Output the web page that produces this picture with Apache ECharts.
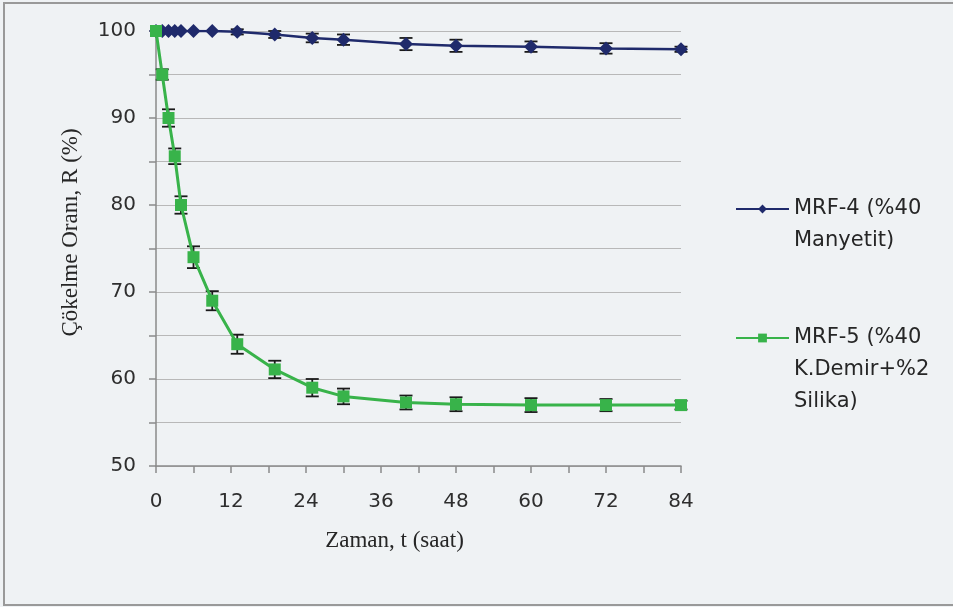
<!DOCTYPE html>
<html>
<head>
<meta charset="utf-8">
<script src="https://cdn.jsdelivr.net/npm/echarts@6/dist/echarts.min.js"></script>
<style>
html,body{margin:0;padding:0;background:#eff2f4;}
#chart{width:953px;height:607px;}
</style>
</head>
<body>
<div id="chart"></div>
<script>
// Data
const times = [0, 1, 2, 3, 4, 6, 9, 13, 19, 25, 30, 40, 48, 60, 72, 84];
const mrf4 = [100, 100, 100, 100, 100, 100, 100, 99.9, 99.6, 99.2, 99.0, 98.5, 98.3, 98.2, 98.0, 97.9];
const mrf4Err = [0, 0, 0, 0, 0, 0, 0, 0.3, 0.4, 0.5, 0.6, 0.7, 0.7, 0.6, 0.6, 0.3];
const mrf5 = [100, 95, 90, 85.6, 80, 74, 69, 64, 61.1, 59, 58, 57.3, 57.1, 57, 57, 57];
const mrf5Err = [0, 0.6, 1.0, 0.9, 1.0, 1.25, 1.1, 1.1, 1.0, 1.0, 0.9, 0.8, 0.8, 0.8, 0.7, 0.5];
const seriesNames = ['MRF-4 (%40 Manyetit)', 'MRF-5 (%40 K.Demir+%2 Silika)'];
const legendLabels = ['MRF-4 (%40\nManyetit)', 'MRF-5 (%40\nK.Demir+%2\nSilika)'];
const xTitle = 'Zaman, t (saat)';
const yTitle = 'Çökelme Oranı, R (%)';

const pts = (vals) => times.map((t, i) => [t, vals[i]]);
const errPts = (vals, errs) => times.map((t, i) => [t, vals[i] - errs[i], vals[i] + errs[i]]).filter((d, i) => errs[i] > 0);

function errRender(params, api) {
  const x = api.value(0);
  const lo = api.coord([x, api.value(1)]);
  const hi = api.coord([x, api.value(2)]);
  const hw = 6.5;
  const st = { stroke: '#1a1a1a', lineWidth: 1.8 };
  return {
    type: 'group',
    children: [
      { type: 'line', shape: { x1: lo[0], y1: lo[1], x2: hi[0], y2: hi[1] }, style: st },
      { type: 'line', shape: { x1: lo[0] - hw, y1: lo[1], x2: lo[0] + hw, y2: lo[1] }, style: st },
      { type: 'line', shape: { x1: hi[0] - hw, y1: hi[1], x2: hi[0] + hw, y2: hi[1] }, style: st }
    ]
  };
}

const blue = '#1f2a6b';
const green = '#38b34a';
const sansFont = 'DejaVu Sans';
const serifFont = 'Liberation Serif';

const chart = echarts.init(document.getElementById('chart'), null, { renderer: 'canvas' });
chart.setOption({
  backgroundColor: '#eff2f4',
  animation: false,
  graphic: [
    { type: 'rect', shape: { x: 4, y: 3, width: 1000, height: 602 }, style: { fill: 'none', stroke: '#999', lineWidth: 2 }, z: -1 }
  ],
  grid: { left: 156, right: 272, top: 31, bottom: 141 },
  legend: {
    orient: 'vertical',
    left: 735,
    top: 161,
    padding: 0,
    itemGap: 1,
    itemWidth: 53,
    itemHeight: 11,
    itemStyle: { borderWidth: 0 },
    data: seriesNames,
    formatter: function (name) {
      const i = seriesNames.indexOf(name);
      const lines = legendLabels[i].split('\n').length;
      return '\n'.repeat(lines - 1) + legendLabels[i];
    },
    textStyle: { fontFamily: sansFont, fontSize: 21, color: '#262626', lineHeight: 32 }
  },
  xAxis: {
    type: 'value',
    min: 0, max: 84, interval: 6,
    name: xTitle,
    nameLocation: 'middle',
    nameGap: 63,
    nameTextStyle: { fontFamily: serifFont, fontSize: 23, color: '#262626', padding: [0, 48, 0, 0] },
    axisLine: { show: true, lineStyle: { color: '#8a8a8a', width: 1.5 } },
    axisTick: { show: true, length: 7, inside: false, lineStyle: { color: '#8a8a8a', width: 1.5 } },
    axisLabel: {
      margin: 26,
      fontFamily: sansFont, fontSize: 20, color: '#2e2e2e',
      formatter: (v) => (v % 12 === 0 ? String(v) : '')
    },
    splitLine: { show: false }
  },
  yAxis: {
    type: 'value',
    min: 50, max: 100, interval: 5,
    name: yTitle,
    nameLocation: 'middle',
    nameRotate: 90,
    nameGap: 74,
    nameTextStyle: { fontFamily: serifFont, fontSize: 23, color: '#262626', padding: [0, 0, 0, 32] },
    axisLine: { show: true, lineStyle: { color: '#8a8a8a', width: 1.5 } },
    axisTick: { show: true, length: 7, inside: false, lineStyle: { color: '#8a8a8a', width: 1.5 } },
    axisLabel: {
      margin: 20,
      fontFamily: sansFont, fontSize: 20, color: '#2e2e2e',
      formatter: (v) => (v % 10 === 0 ? String(v) : '')
    },
    splitLine: { show: true, lineStyle: { color: '#b8b8b8', width: 1.2 } }
  },
  series: [
    {
      name: 'err4', type: 'custom', renderItem: errRender, data: errPts(mrf4, mrf4Err), z: 1, silent: true
    },
    {
      name: 'err5', type: 'custom', renderItem: errRender, data: errPts(mrf5, mrf5Err), z: 1, silent: true
    },
    {
      name: seriesNames[0], type: 'line', data: pts(mrf4), z: 2,
      symbol: 'diamond', symbolSize: 14,
      lineStyle: { color: blue, width: 2.5 },
      itemStyle: { color: blue, borderWidth: 0 }
    },
    {
      name: seriesNames[1], type: 'line', data: pts(mrf5), z: 3,
      symbol: 'rect', symbolSize: 12,
      lineStyle: { color: green, width: 3 },
      itemStyle: { color: green, borderWidth: 0 }
    }
  ]
});
</script>
</body>
</html>
